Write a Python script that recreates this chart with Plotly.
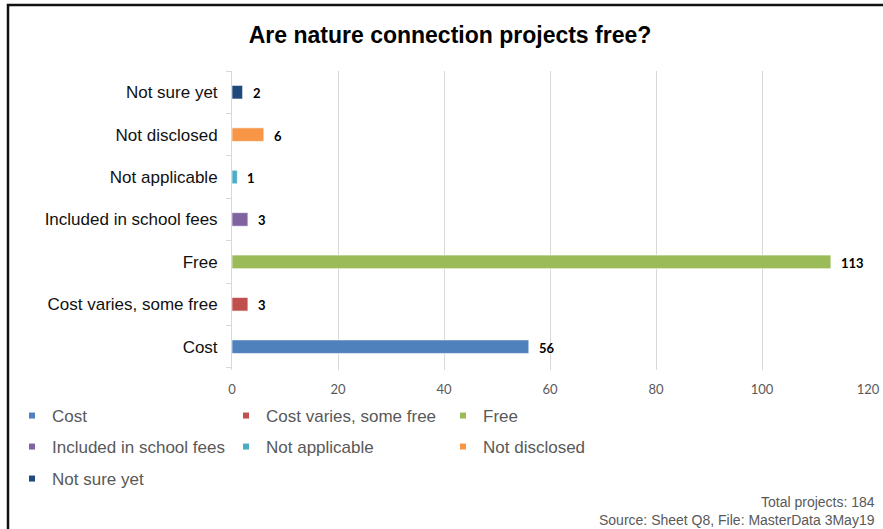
import plotly.graph_objects as go

# Survey answers: are nature connection projects free?
categories = ["Cost", "Cost varies, some free", "Free", "Included in school fees",
              "Not applicable", "Not disclosed", "Not sure yet"]
counts = [56, 3, 113, 3, 1, 6, 2]
colors = ["#4F81BD", "#C0504D", "#9BBB59", "#8064A2", "#4BACC6", "#F79646", "#1F497D"]
x_ticks = [0, 20, 40, 60, 80, 100, 120]
total_projects = 184

W, H = 883, 529
ML, MR, MT, MB = 232, 15, 71, 159
PW, PH = W - ML - MR, H - MT - MB

fig = go.Figure()

# One bar trace per category so each gets its own colour
for cat, val, col in zip(categories, counts, colors):
    fig.add_trace(go.Bar(
        x=[val], y=[cat], orientation="h", name=cat,
        marker=dict(color=col, line=dict(color="rgba(255,255,255,0.6)", width=1)),
        width=0.32, showlegend=False, legendgroup=cat, hoverinfo="x+y",
    ))

# Legend: one small legend box per entry, laid out as a 3-column grid
legend_ids = ["legend", "legend2", "legend3", "legend4", "legend5", "legend6", "legend7"]
for cat, col, lg in zip(categories, colors, legend_ids):
    fig.add_trace(go.Scatter(
        x=[None], y=[None], mode="markers", name=cat, legend=lg, legendgroup=cat,
        marker=dict(symbol="square", size=6, color=col), showlegend=True,
    ))

# Bold value labels just right of each bar
for cat, val in zip(categories, counts):
    fig.add_annotation(x=val, y=cat, text=f"<b>{val}</b>", showarrow=False,
                       xanchor="left", xshift=8, yshift=-1,
                       font=dict(family="Lato, Liberation Sans, sans-serif", size=13, color="#000000"))

legend_font = dict(family="Liberation Sans, Arial, sans-serif", size=17, color="#595959")
col_x = [12, 226, 443]
row_y = [416, 447, 479]
legend_layout = {}
for i, lg in enumerate(legend_ids):
    legend_layout[lg] = dict(
        orientation="h", xref="container", yref="container",
        x=col_x[i % 3] / W, xanchor="left",
        y=1 - row_y[i // 3] / H, yanchor="middle",
        itemwidth=30, font=legend_font, bgcolor="rgba(0,0,0,0)",
    )

fig.update_layout(
    width=W, height=H,
    margin=dict(l=ML, r=MR, t=MT, b=MB, autoexpand=False),
    paper_bgcolor="white", plot_bgcolor="white",
    barmode="overlay",
    title=dict(text="<b>Are nature connection projects free?</b>",
               x=450 / W, xref="container", xanchor="center",
               y=1 - 35 / H, yref="container", yanchor="middle",
               font=dict(family="Liberation Sans, Arial, sans-serif", size=23, color="#000000")),
    xaxis=dict(range=[0, 120], tickvals=x_ticks, showgrid=True, gridcolor="#d9d9d9",
               gridwidth=1, zeroline=False, showline=False, ticks="", automargin=False,
               ticklabelstandoff=10,
               tickfont=dict(family="Lato, Liberation Sans, sans-serif", size=13, color="#595959")),
    yaxis=dict(categoryorder="array", categoryarray=categories, range=[-0.55, 6.5],
               showgrid=False, showline=True, linecolor="#d9d9d9", linewidth=1,
               ticks="outside", tickson="boundaries", ticklen=5, tickcolor="#d9d9d9",
               ticklabelstandoff=10, automargin=False,
               tickfont=dict(family="Liberation Sans, Arial, sans-serif", size=17, color="#111111")),
    showlegend=True,
    **legend_layout,
)

# Footnotes, right-aligned in the lower corner
foot_font = dict(family="Liberation Sans, Arial, sans-serif", size=14, color="#595959")
fig.add_annotation(text=f"Total projects: {total_projects}", xref="paper", yref="paper",
                   x=(877 - ML) / PW, y=-(502 - (H - MB)) / PH,
                   xanchor="right", yanchor="middle", showarrow=False, font=foot_font)
fig.add_annotation(text="Source: Sheet Q8, File: MasterData 3May19", xref="paper", yref="paper",
                   x=(877 - ML) / PW, y=-(520 - (H - MB)) / PH,
                   xanchor="right", yanchor="middle", showarrow=False, font=foot_font)

# Chart frame: dark border running along the top and left edges
fig.add_shape(type="rect", xref="paper", yref="paper",
              x0=(8 - ML) / PW, x1=(895 - ML) / PW,
              y0=-(540 - (H - MB)) / PH, y1=1 + (MT - 5) / PH,
              line=dict(color="#111111", width=2.5), fillcolor="rgba(0,0,0,0)", layer="below")

fig.write_html("out.html")
